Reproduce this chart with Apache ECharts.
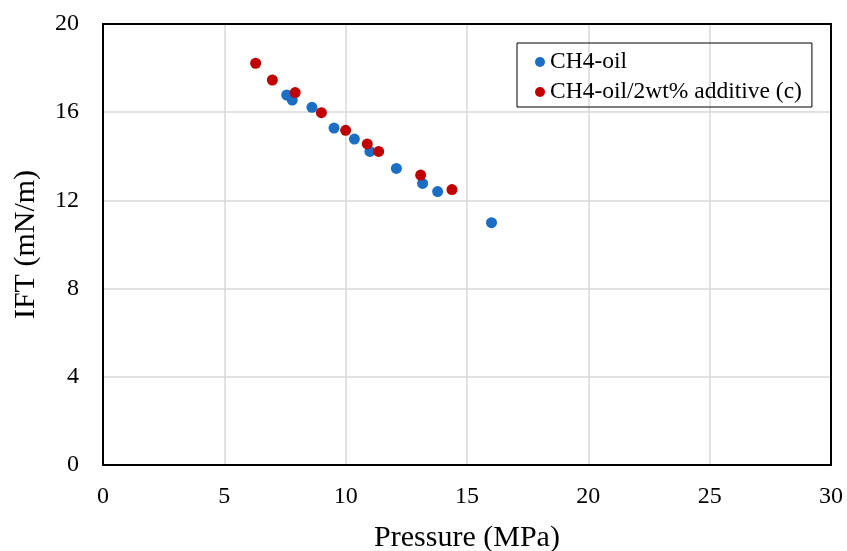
<!DOCTYPE html>
<html><head><meta charset="utf-8">
<script src="https://cdn.jsdelivr.net/npm/echarts@6/dist/echarts.min.js"></script>
<style>html,body{margin:0;padding:0;background:#fff}#c{width:847px;height:551px}</style>
</head><body><div id="c"></div>
<script>
const seriesNames = ['CH4-oil', 'CH4-oil/2wt% additive (c)'];
const oilPressure = [7.57, 7.80, 8.61, 9.52, 10.36, 11.00, 12.09, 13.17, 13.79, 16.01];
const oilIFT      = [16.78, 16.55, 16.22, 15.28, 14.78, 14.22, 13.45, 12.77, 12.40, 10.99];
const addPressure = [6.29, 6.98, 7.92, 9.00, 10.00, 10.89, 11.36, 13.09, 14.38];
const addIFT      = [18.22, 17.46, 16.89, 15.98, 15.18, 14.56, 14.22, 13.15, 12.49];
const xTicks = [0, 5, 10, 15, 20, 25, 30];
const yTicks = [0, 4, 8, 12, 16, 20];

const font = 'Liberation Serif, Times New Roman, serif';
const xMin = xTicks[0], xMax = xTicks[xTicks.length - 1];
const yMin = yTicks[0], yMax = yTicks[yTicks.length - 1];
const frame = { show: true, onZero: false, lineStyle: { color: '#000', width: 2 } };
const chart = echarts.init(document.getElementById('c'));
chart.setOption({
  animation: false,
  backgroundColor: '#fff',
  grid: { left: 103, right: 16, top: 24, bottom: 86, containLabel: false, outerBoundsMode: 'none' },
  legend: {
    orient: 'vertical', left: 517, top: 43,
    data: seriesNames,
    icon: 'circle', itemWidth: 10, itemHeight: 10, itemGap: 4,
    borderColor: '#000', borderWidth: 1, borderRadius: 0,
    padding: [6, 10, 2, 18],
    textStyle: { fontFamily: font, fontSize: 23.5, color: '#000', lineHeight: 26 }
  },
  xAxis: [{
    type: 'value', min: xMin, max: xMax, interval: 5,
    name: 'Pressure (MPa)', nameLocation: 'middle', nameGap: 58,
    nameTextStyle: { fontFamily: font, fontSize: 30, color: '#000' },
    axisLine: frame, axisTick: { show: false },
    axisLabel: { fontFamily: font, fontSize: 24, color: '#000', margin: 20 },
    splitLine: { show: true, lineStyle: { color: '#d9d9d9', width: 1.5 } }
  }, {
    type: 'value', position: 'top', min: xMin, max: xMax, interval: 5,
    axisLine: frame, axisTick: { show: false }, axisLabel: { show: false }, splitLine: { show: false }
  }],
  yAxis: [{
    type: 'value', min: yMin, max: yMax, interval: 4,
    name: 'IFT (mN/m)', nameLocation: 'middle', nameGap: 62,
    nameTextStyle: { fontFamily: font, fontSize: 30, color: '#000' },
    axisLine: frame, axisTick: { show: false },
    axisLabel: { fontFamily: font, fontSize: 24, color: '#000', margin: 24 },
    splitLine: { show: true, lineStyle: { color: '#d9d9d9', width: 1.5 } }
  }, {
    type: 'value', position: 'right', min: yMin, max: yMax, interval: 4,
    axisLine: frame, axisTick: { show: false }, axisLabel: { show: false }, splitLine: { show: false }
  }],
  series: [
    { name: seriesNames[0], type: 'scatter', symbol: 'circle', symbolSize: 11, z: 3,
      itemStyle: { color: '#1a6ec4', opacity: 1 },
      data: oilPressure.map((p, i) => [p, oilIFT[i]]) },
    { name: seriesNames[1], type: 'scatter', symbol: 'circle', symbolSize: 11, z: 4,
      itemStyle: { color: '#c00000', opacity: 1 },
      data: addPressure.map((p, i) => [p, addIFT[i]]) }
  ]
});
</script></body></html>
